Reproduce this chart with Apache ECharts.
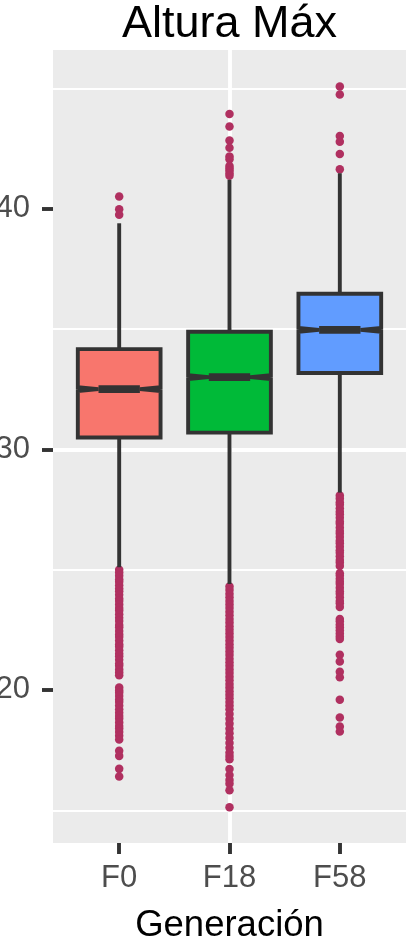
<!DOCTYPE html>
<html>
<head>
<meta charset="utf-8">
<script src="https://cdn.jsdelivr.net/npm/echarts@6/dist/echarts.min.js"></script>
<style>
  html, body { margin: 0; padding: 0; background: #ffffff; }
  #chart { width: 413px; height: 944px; }
</style>
</head>
<body>
<div id="chart"></div>
<script>
// ---------- data ----------
const CATEGORIES = ['F0', 'F18', 'F58'];
const LOWER_WHISKER = [25.10, 24.40, 28.20];
const Q1 = [30.49, 30.69, 33.17];
const MEDIAN = [32.50, 33.00, 34.96];
const Q3 = [34.16, 34.88, 36.46];
const UPPER_WHISKER = [39.39, 41.20, 41.47];
const NOTCH_LOW = [32.42, 32.92, 34.88];
const NOTCH_HIGH = [32.58, 33.08, 35.04];

const OUTLIERS_F0 = [
  40.50, 39.97, 39.74,
  24.99, 24.88, 24.74, 24.60, 24.50, 24.35, 24.21, 24.10, 23.95, 23.80, 23.70, 23.55,
  23.40, 23.30, 23.15, 23.00, 22.86, 22.70, 22.60, 22.45, 22.30, 22.20, 22.05, 21.90,
  21.80, 21.65, 21.50, 21.40, 21.25, 21.10, 21.00, 20.85, 20.72, 20.61,
  20.10, 19.98, 19.88, 19.75, 19.60, 19.50, 19.35, 19.20, 19.05, 18.92, 18.80, 18.65,
  18.50, 18.40, 18.25, 18.10, 17.94,
  17.47, 17.26, 16.72, 16.40
];
const OUTLIERS_F18 = [
  43.93, 43.41, 42.83, 42.53, 42.16, 42.05, 41.77, 41.68, 41.58, 41.47, 41.36,
  24.30, 24.15, 24.00, 23.85, 23.70, 23.55, 23.40, 23.25, 23.10, 22.95, 22.80, 22.65,
  22.50, 22.35, 22.20, 22.05, 21.90, 21.75, 21.60, 21.45, 21.30, 21.15, 21.00, 20.85,
  20.70, 20.55, 20.40, 20.25, 20.10, 19.95, 19.80, 19.65, 19.50, 19.35, 19.20, 19.00,
  18.80, 18.60, 18.40, 18.20, 18.00, 17.80, 17.60, 17.40, 17.25, 17.12,
  16.71, 16.47, 16.26, 16.10, 15.83, 15.13
];
const OUTLIERS_F58 = [
  45.07, 44.74, 43.02, 42.78, 42.27, 41.64,
  28.08, 27.95, 27.80, 27.70, 27.55, 27.40, 27.30, 27.15, 27.00, 26.90, 26.75, 26.60,
  26.50, 26.35, 26.20, 26.10, 25.95, 25.80, 25.70, 25.55, 25.40, 25.30, 25.15,
  24.85, 24.75, 24.62, 24.50, 24.40, 24.25, 24.10, 24.00, 23.85, 23.70, 23.60, 23.45,
  22.95, 22.85, 22.72, 22.60, 22.48, 22.35, 22.22, 22.12,
  21.46, 21.18, 20.76, 20.53, 19.59, 18.85, 18.48, 18.27
];
const OUTLIERS = [OUTLIERS_F0, OUTLIERS_F18, OUTLIERS_F58];
const Y_TICKS = [20, 30, 40];
const X_TICKS = [1, 2, 3];

// ---------- styles ----------
const FILLS = ['#F8766D', '#00BA38', '#619CFF'];
const LINE_COLOR = '#333333';
const LW = 3.9;
const BOX_WIDTH = 0.75;
const NOTCH_WIDTH = 0.5;
const FONT = "'Liberation Sans', Arial, Helvetica, sans-serif";

const boxData = CATEGORIES.map((c, i) => [i + 1, LOWER_WHISKER[i], Q1[i], MEDIAN[i], Q3[i], UPPER_WHISKER[i], NOTCH_LOW[i], NOTCH_HIGH[i], i]);
const outlierData = [];
OUTLIERS.forEach((arr, i) => arr.forEach(v => outlierData.push([i + 1, v])));

function renderBox(params, api) {
  const xv = api.value(0);
  const lo = api.value(1), q1 = api.value(2), med = api.value(3), q3 = api.value(4), hi = api.value(5);
  const nl = api.value(6), nh = api.value(7), idx = api.value(8);
  const half = api.size([BOX_WIDTH, 0], [xv, med])[0] / 2;
  const indent = (1 - NOTCH_WIDTH) * half;
  const cx = api.coord([xv, med])[0];
  const y = v => api.coord([xv, v])[1];
  const L = cx - half, R = cx + half;
  const pts = [
    [L, y(q3)], [L, y(nh)], [L + indent, y(med)], [L, y(nl)], [L, y(q1)],
    [R, y(q1)], [R, y(nl)], [R - indent, y(med)], [R, y(nh)], [R, y(q3)]
  ];
  const ls = { stroke: LINE_COLOR, lineWidth: LW, lineCap: 'butt' };
  return {
    type: 'group',
    children: [
      { type: 'line', shape: { x1: cx, y1: y(q3), x2: cx, y2: y(hi) }, style: ls },
      { type: 'line', shape: { x1: cx, y1: y(q1), x2: cx, y2: y(lo) }, style: ls },
      { type: 'polygon', shape: { points: pts }, style: { fill: FILLS[idx], stroke: LINE_COLOR, lineWidth: LW, lineJoin: 'miter' } },
      { type: 'line', shape: { x1: L + indent, y1: y(med), x2: R - indent, y2: y(med) }, style: { stroke: LINE_COLOR, lineWidth: LW * 2, lineCap: 'butt' } }
    ]
  };
}

const chart = echarts.init(document.getElementById('chart'), null, { renderer: 'canvas' });
chart.setOption({
  animation: false,
  backgroundColor: '#ffffff',
  textStyle: { fontFamily: FONT },
  title: {
    text: 'Altura Máx',
    left: 229.5,
    top: 2,
    padding: 0,
    textAlign: 'center',
    textStyle: { fontFamily: FONT, fontSize: 45, fontWeight: 'normal', color: '#000000' }
  },
  grid: {
    left: 53, right: 7, top: 50, bottom: 101,
    show: true, backgroundColor: '#EBEBEB', borderWidth: 0,
    containLabel: false,
    outerBoundsMode: 'none'
  },
  xAxis: {
    type: 'value',
    min: 0.4, max: 3.6, splitNumber: 3,
    axisLine: { show: false },
    axisTick: { show: true, customValues: X_TICKS, length: 11, lineStyle: { color: LINE_COLOR, width: LW } },
    axisLabel: {
      customValues: X_TICKS, margin: 20,
      formatter: v => CATEGORIES[Math.round(v) - 1] || '',
      fontFamily: FONT, fontSize: 31, color: '#4D4D4D'
    },
    splitLine: { show: true, showMinLine: false, showMaxLine: false, lineStyle: { color: '#FFFFFF', width: LW } },
    name: 'Generación',
    nameLocation: 'middle',
    nameGap: 64,
    nameTextStyle: { fontFamily: FONT, fontSize: 36.5, color: '#000000' }
  },
  yAxis: {
    type: 'value',
    min: 13.64, max: 46.59, splitNumber: 3,
    axisLine: { show: false },
    axisTick: { show: true, customValues: Y_TICKS, length: 11, lineStyle: { color: LINE_COLOR, width: LW } },
    axisLabel: { customValues: Y_TICKS, margin: 23, fontFamily: FONT, fontSize: 31, color: '#4D4D4D' },
    splitLine: { show: true, showMinLine: false, showMaxLine: false, lineStyle: { color: '#FFFFFF', width: LW } },
    minorTick: { show: false, splitNumber: 2 },
    minorSplitLine: { show: true, lineStyle: { color: '#FFFFFF', width: LW / 2 } }
  },
  series: [
    {
      type: 'scatter',
      data: outlierData,
      symbol: 'circle',
      symbolSize: 8.5,
      itemStyle: { color: '#B03060', opacity: 1 },
      silent: true,
      z: 2
    },
    {
      type: 'custom',
      data: boxData,
      renderItem: renderBox,
      encode: { x: 0, y: [1, 2, 3, 4, 5] },
      silent: true,
      z: 3
    }
  ]
});
</script>
</body>
</html>
